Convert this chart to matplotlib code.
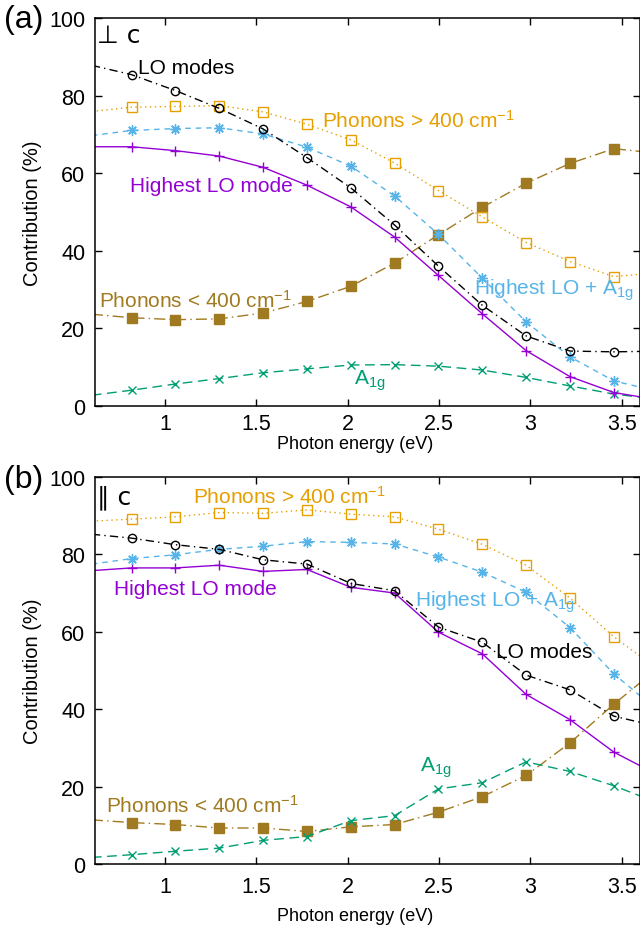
import matplotlib
matplotlib.use('Agg')
import matplotlib.pyplot as plt

plt.rcParams['font.family'] = ['Liberation Sans', 'DejaVu Sans']
plt.rcParams['mathtext.fontset'] = 'custom'
plt.rcParams['mathtext.rm'] = 'Liberation Sans'
plt.rcParams['mathtext.it'] = 'Liberation Sans:italic'

# photon energies where markers sit (eV)
energy = [0.817, 1.057, 1.297, 1.537, 1.777, 2.017, 2.257, 2.497, 2.737, 2.977, 3.217, 3.457]
x_start, x_end = 0.6, 3.6

# (a) perpendicular to c, contribution in %
lo_perp = [85.4, 81.3, 76.7, 71.4, 64.0, 56.2, 46.6, 36.0, 25.9, 18.0, 14.1, 13.9]
ph_hi_perp = [77.0, 77.2, 77.4, 75.8, 72.6, 68.6, 62.6, 55.5, 48.7, 42.1, 37.2, 33.3]
hlo_a1g_perp = [71.0, 71.5, 71.7, 70.1, 66.7, 61.8, 54.1, 44.2, 32.9, 21.6, 12.6, 6.4]
hlo_perp = [66.8, 65.8, 64.4, 61.5, 56.9, 51.3, 43.5, 33.6, 23.7, 14.2, 7.5, 3.4]
ph_lo_perp = [22.7, 22.2, 22.4, 23.9, 26.9, 30.8, 36.8, 44.1, 51.2, 57.4, 62.5, 66.3]
a1g_perp = [4.0, 5.6, 7.0, 8.5, 9.5, 10.5, 10.6, 10.2, 9.2, 7.3, 5.1, 3.0]
# values where the curves meet the left / right border
lo_perp_ends = [87.8, 14.0]
ph_hi_perp_ends = [75.9, 33.9]
hlo_a1g_perp_ends = [69.7, 4.8]
hlo_perp_ends = [66.8, 2.3]
ph_lo_perp_ends = [23.6, 65.6]
a1g_perp_ends = [2.7, 2.2]

# (b) parallel to c
lo_par = [84.2, 82.5, 81.3, 78.6, 77.5, 72.5, 70.6, 61.2, 57.3, 48.8, 45.0, 38.2]
ph_hi_par = [89.1, 89.7, 90.8, 90.6, 91.5, 90.4, 89.7, 86.5, 82.6, 77.2, 68.7, 58.7]
hlo_a1g_par = [78.9, 79.9, 81.3, 82.1, 83.3, 83.1, 82.7, 79.3, 75.4, 70.2, 61.1, 49.1]
hlo_par = [76.5, 76.5, 77.2, 75.6, 76.1, 71.5, 70.0, 59.9, 54.3, 43.8, 37.3, 28.9]
ph_lo_par = [10.7, 10.2, 9.3, 9.3, 8.4, 9.6, 10.2, 13.4, 17.4, 22.9, 31.3, 41.3]
a1g_par = [2.4, 3.3, 4.1, 6.1, 7.1, 11.2, 12.5, 19.4, 21.0, 26.4, 23.9, 20.2]
lo_par_ends = [85.2, 36.6]
ph_hi_par_ends = [88.6, 53.7]
hlo_a1g_par_ends = [77.5, 43.5]
hlo_par_ends = [75.8, 25.4]
ph_lo_par_ends = [11.4, 46.8]
a1g_par_ends = [1.7, 17.6]

BLACK = 'black'
ORANGE = '#E69F00'
SKY = '#56B4E9'
PURPLE = '#9400D3'
BROWN = '#A07A20'
GREEN = '#009E73'

# color, line style, marker, filled marker, marker size
styles = {
    'lo': (BLACK, (0, (6, 3, 1, 3)), 'o', False, 6),
    'ph_hi': (ORANGE, (0, (1, 2.5)), 's', False, 6.5),
    'hlo_a1g': (SKY, (0, (4, 3.5)), (8, 2, 0), False, 7.5),
    'hlo': (PURPLE, '-', '+', False, 7.5),
    'ph_lo': (BROWN, (0, (8, 3, 1, 3)), 's', True, 6.5),
    'a1g': (GREEN, (0, (7, 4)), 'x', False, 6),
}

LBL = 15


def draw(ax, key, vals, ends):
    color, ls, marker, filled, ms = styles[key]
    xs = [x_start] + energy + [x_end]
    ys = [ends[0]] + vals + [ends[1]]
    ax.plot(xs, ys, color=color, lw=1.0, linestyle=ls)
    ax.plot(energy, vals, ls='none', marker=marker, ms=ms, mew=1.0,
            mec=color, mfc=color if filled else 'none')


def style_axes(ax, xpad, xlabel_y):
    ax.set_xlim(0.617, 3.6)
    ax.set_ylim(0, 100)
    ax.set_xticks([1, 1.5, 2, 2.5, 3, 3.5])
    ax.set_xticklabels(['1', '1.5', '2', '2.5', '3', '3.5'])
    ax.set_yticks([0, 20, 40, 60, 80, 100])
    ax.tick_params(direction='in', top=True, right=True, length=5, width=1,
                   labelsize=15.5)
    ax.tick_params(axis='y', pad=7)
    ax.tick_params(axis='x', pad=xpad)
    for sp in ax.spines.values():
        sp.set_linewidth(1.1)
    ax.set_xlabel('Photon energy (eV)', fontsize=13)
    ax.set_ylabel('Contribution (%)', fontsize=14.5)
    ax.yaxis.set_label_coords(-0.097, 0.5)
    ax.xaxis.set_label_coords(0.477, xlabel_y)


fig = plt.figure(figsize=(6.4, 9.29), dpi=100)
ax1 = fig.add_axes([0.1484, 0.5622, 0.8516, 0.4173])
ax2 = fig.add_axes([0.1484, 0.0689, 0.8516, 0.4166])

cm = r' cm$^{-1}$'
sub = r'A$_{\mathrm{1g}}$'

# panel (a)
draw(ax1, 'ph_lo', ph_lo_perp, ph_lo_perp_ends)
draw(ax1, 'a1g', a1g_perp, a1g_perp_ends)
draw(ax1, 'hlo', hlo_perp, hlo_perp_ends)
draw(ax1, 'hlo_a1g', hlo_a1g_perp, hlo_a1g_perp_ends)
draw(ax1, 'ph_hi', ph_hi_perp, ph_hi_perp_ends)
draw(ax1, 'lo', lo_perp, lo_perp_ends)
style_axes(ax1, 5.5, -0.075)
ax1.text(0.852, 87.2, 'LO modes', color=BLACK, fontsize=LBL, va='center')
ax1.text(1.857, 73.8, 'Phonons > 400' + cm, color=ORANGE, fontsize=LBL, va='center')
ax1.text(0.808, 56.8, 'Highest LO mode', color=PURPLE, fontsize=LBL, va='center')
ax1.text(2.693, 30.0, 'Highest LO + ' + sub, color=SKY, fontsize=LBL, va='center')
ax1.text(0.639, 27.4, 'Phonons < 400' + cm, color=BROWN, fontsize=LBL, va='center')
ax1.text(2.032, 6.8, sub, color=GREEN, fontsize=LBL, va='center')
ax1.text(0.628, 95.5, '\u22a5 c', fontsize=18, va='center',
         family=['DejaVu Sans'])

# panel (b)
draw(ax2, 'ph_lo', ph_lo_par, ph_lo_par_ends)
draw(ax2, 'a1g', a1g_par, a1g_par_ends)
draw(ax2, 'hlo', hlo_par, hlo_par_ends)
draw(ax2, 'hlo_a1g', hlo_a1g_par, hlo_a1g_par_ends)
draw(ax2, 'ph_hi', ph_hi_par, ph_hi_par_ends)
draw(ax2, 'lo', lo_par, lo_par_ends)
style_axes(ax2, 9, -0.11)
ax2.text(1.152, 95.1, 'Phonons > 400' + cm, color=ORANGE, fontsize=LBL, va='center')
ax2.text(0.721, 71.3, 'Highest LO mode', color=PURPLE, fontsize=LBL, va='center')
ax2.text(2.371, 68.0, 'Highest LO + ' + sub, color=SKY, fontsize=LBL, va='center')
ax2.text(2.814, 55.0, 'LO modes', color=BLACK, fontsize=LBL, va='center')
ax2.text(2.398, 25.1, sub, color=GREEN, fontsize=LBL, va='center')
ax2.text(0.677, 15.2, 'Phonons < 400' + cm, color=BROWN, fontsize=LBL, va='center')
ax2.text(0.63, 95.0, '\u2225 c', fontsize=18, va='center', family=['DejaVu Sans'])

fig.text(0.006, 1 - 20 / 929, '(a)', fontsize=23, va='center')
fig.text(0.006, 1 - 480 / 929, '(b)', fontsize=23, va='center')

fig.savefig('out.png', dpi=100)
